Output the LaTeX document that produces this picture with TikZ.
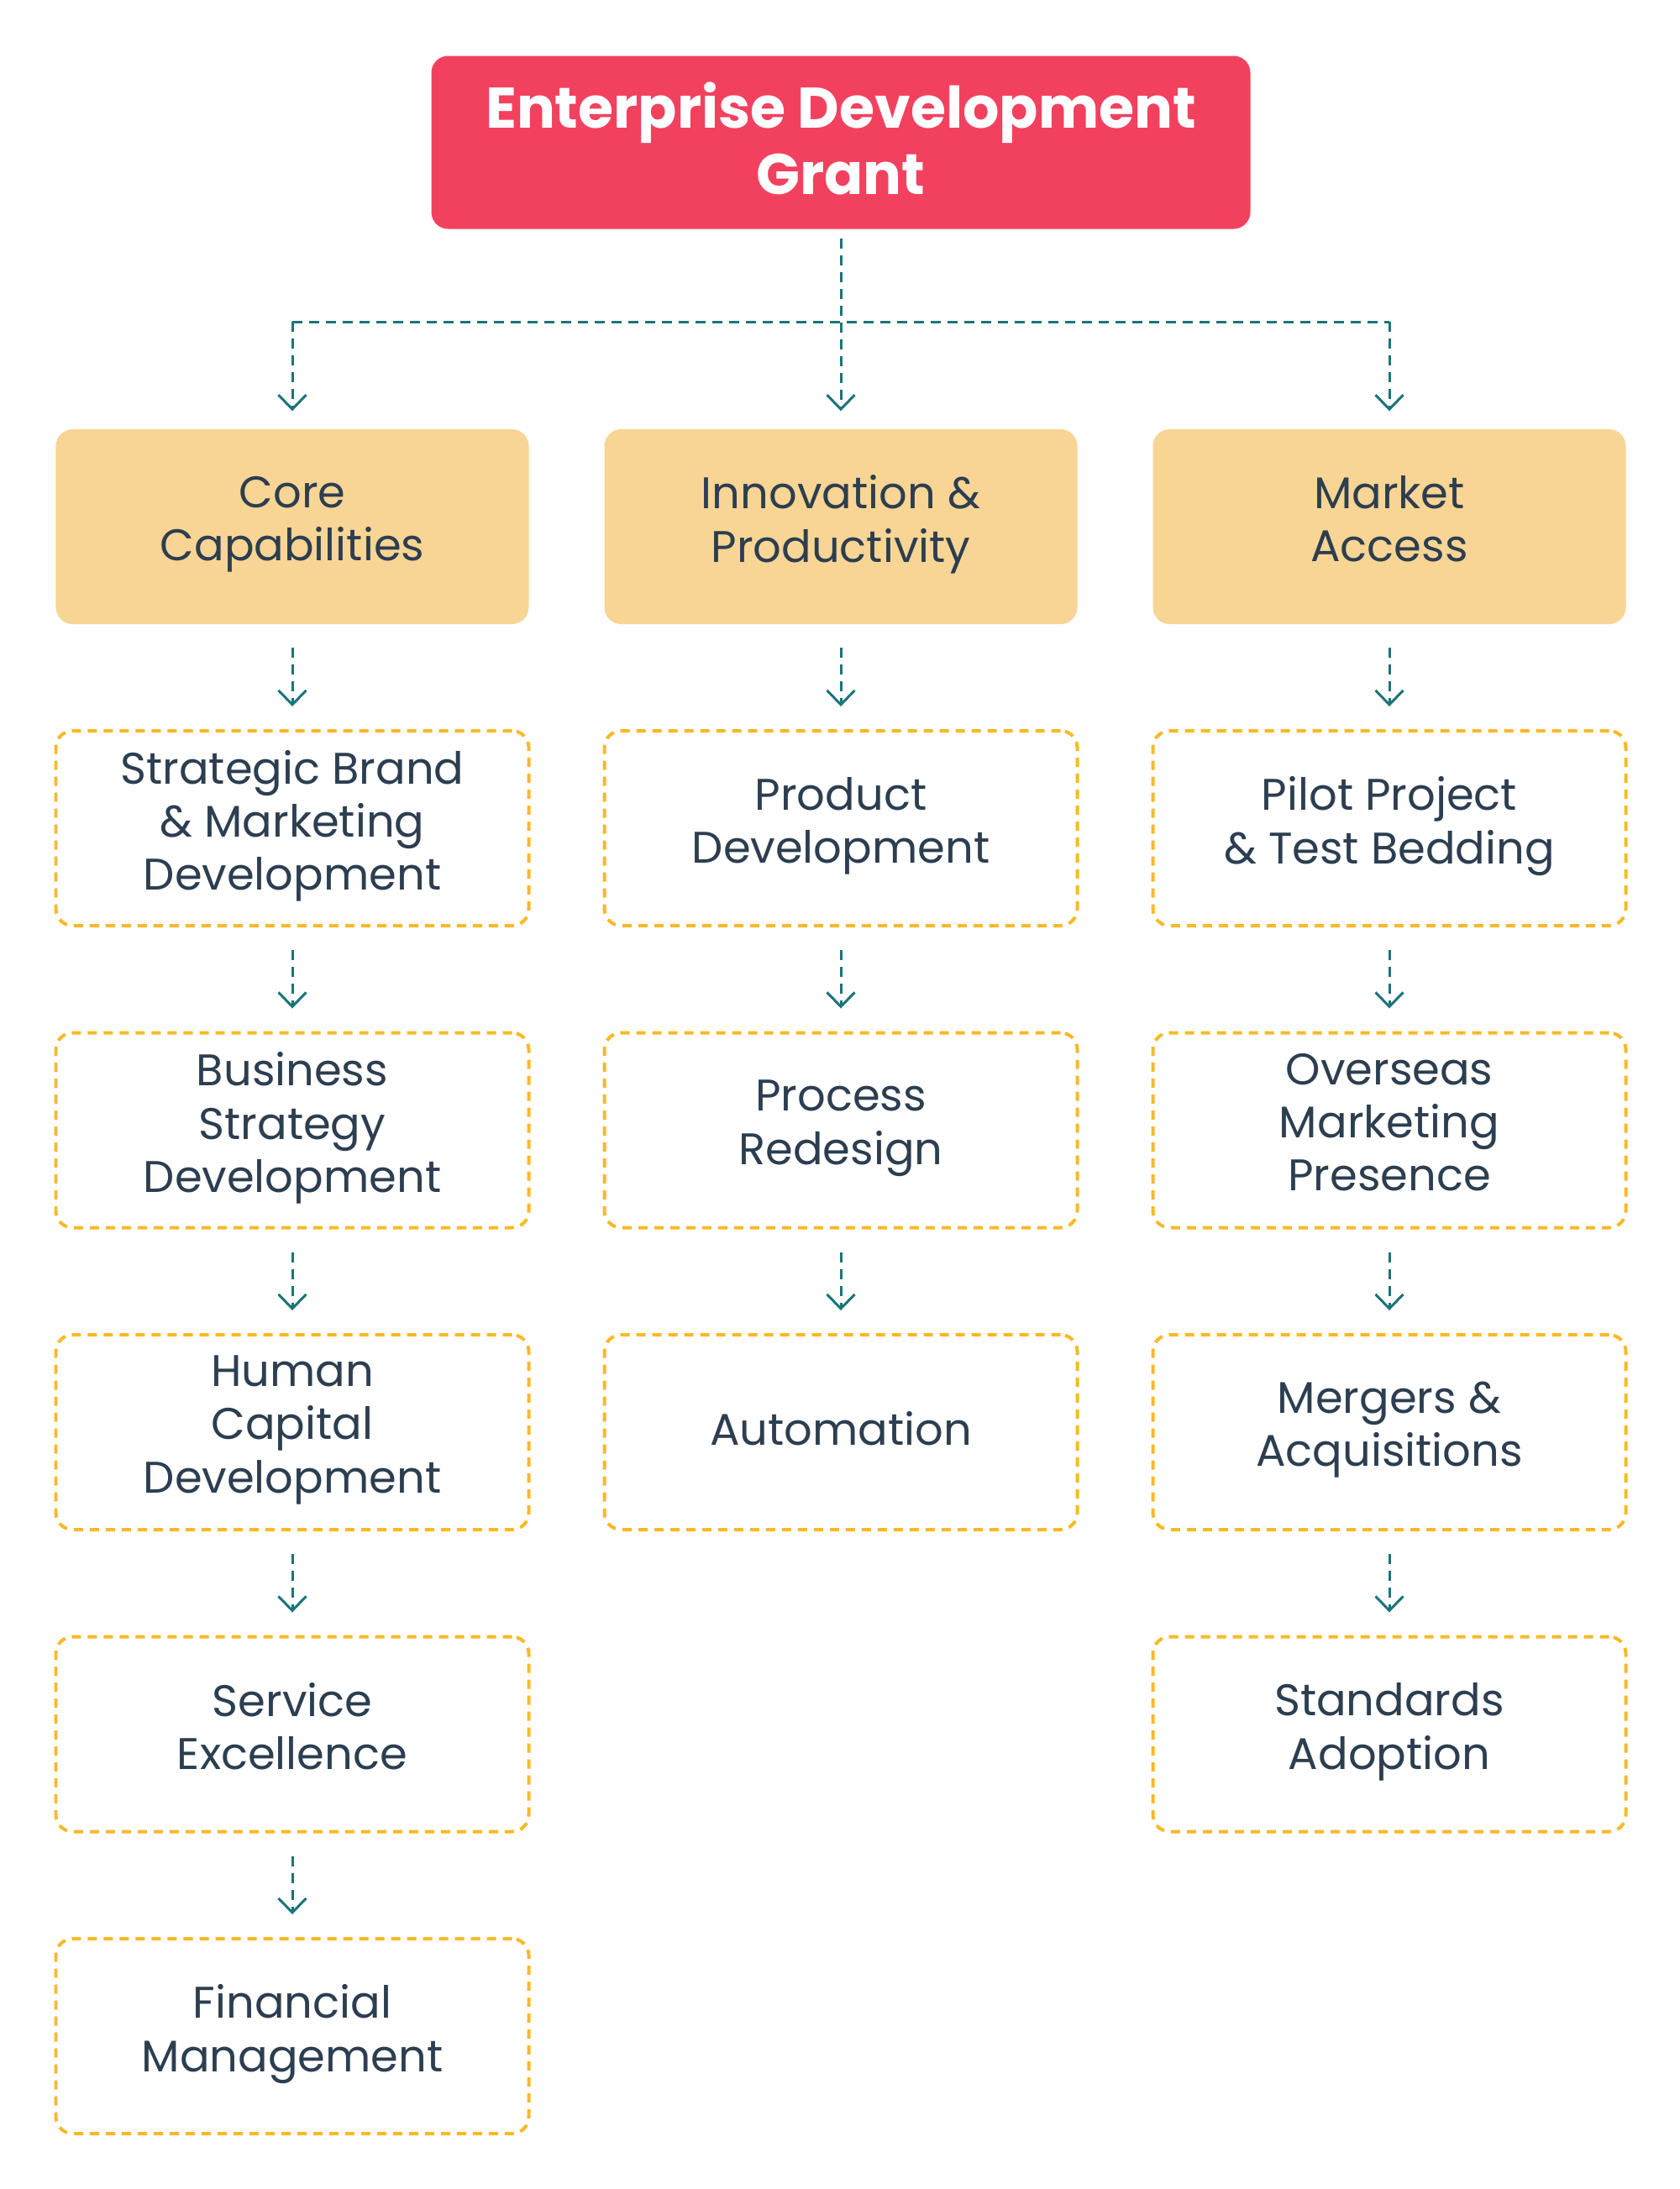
\documentclass[tikz,border=0pt]{standalone}
\usepackage{fontspec}
\setmainfont{Poppins}
\usetikzlibrary{arrows.meta,positioning}
\definecolor{grantred}{HTML}{F2415F}
\definecolor{catfill}{HTML}{F8D594}
\definecolor{boxline}{HTML}{F9B926}
\definecolor{linkteal}{HTML}{1A7479}
\definecolor{inkdark}{HTML}{2C3E50}
\tikzset{>={Straight Barb[length=1.7mm,width=3.3mm]}}
\tikzset{
  grant/.style={fill=grantred,rounded corners=0.2cm,minimum width=9.75cm,minimum height=2.06cm,
    align=center,text=white,font=\fontsize{19.4}{22.5}\selectfont\bfseries,
    execute at end node={\rule[-3pt]{0pt}{3pt}}},
  area/.style={fill=catfill,rounded corners=0.2cm,minimum width=5.63cm,minimum height=2.32cm,
    align=center,text=inkdark,font=\fontsize{15}{18}\selectfont,
    execute at begin node={\rule{0pt}{14pt}},execute at end node={\rule[-5.4pt]{0pt}{5.4pt}}},
  item/.style={draw=boxline,line width=0.04cm,dash pattern=on 0.11cm off 0.08cm,rounded corners=0.2cm,
    minimum width=5.63cm,minimum height=2.32cm,align=center,text=inkdark,font=\fontsize{15}{18}\selectfont,
    execute at begin node={\rule{0pt}{14pt}},execute at end node={\rule[-5.4pt]{0pt}{5.4pt}}},
  link/.style={draw=linkteal,line width=0.03cm,dash pattern=on 0.12cm off 0.08cm},
  flow/.style={link,->,shorten <=0.27cm,shorten >=0.27cm}
}
\begin{document}
\begin{tikzpicture}
\useasboundingbox (0,0) rectangle (20,-26.06);
\node[grant] (grant) at (10.01,-1.695) {Enterprise Development\\Grant};
% categories
\node[area] (core) at (3.48,-6.27) {Core\\Capabilities};
\node[area] (innov) at (10.01,-6.27) {Innovation \&\\Productivity};
\node[area] (market) at (16.54,-6.27) {Market\\Access};
\coordinate (split) at (10.01,-3.83);
\draw[link] (core.north |- split) -- (market.north |- split);
\draw[link,->,shorten <=0.11cm,shorten >=0.21cm] (grant.south) -- (innov.north);
\draw[link,->,shorten >=0.21cm] (core.north |- split) -- (core.north);
\draw[link,->,shorten >=0.21cm] (market.north |- split) -- (market.north);
% core column
\node[item] (brand) at (3.48,-9.86) {Strategic Brand\\\& Marketing\\Development};
\node[item] (strategy) at (3.48,-13.455) {Business\\Strategy\\Development};
\node[item] (human) at (3.48,-17.05) {Human\\Capital\\Development};
\node[item] (service) at (3.48,-20.645) {Service\\Excellence};
\node[item] (finance) at (3.48,-24.24) {Financial\\Management};
% innovation column
\node[item] (product) at (10.01,-9.86) {Product\\Development};
\node[item] (process) at (10.01,-13.455) {Process\\Redesign};
\node[item] (auto) at (10.01,-17.05) {Automation};
% market column
\node[item] (pilot) at (16.54,-9.86) {Pilot Project\\\& Test Bedding};
\node[item] (overseas) at (16.54,-13.455) {Overseas\\Marketing\\Presence};
\node[item] (merger) at (16.54,-17.05) {Mergers \&\\Acquisitions};
\node[item] (standard) at (16.54,-20.645) {Standards\\Adoption};
\foreach \a/\b in {core/brand,brand/strategy,strategy/human,human/service,service/finance,
  innov/product,product/process,process/auto,
  market/pilot,pilot/overseas,overseas/merger,merger/standard}
  \draw[flow] (\a.south) -- (\b.north);
\end{tikzpicture}
\end{document}
